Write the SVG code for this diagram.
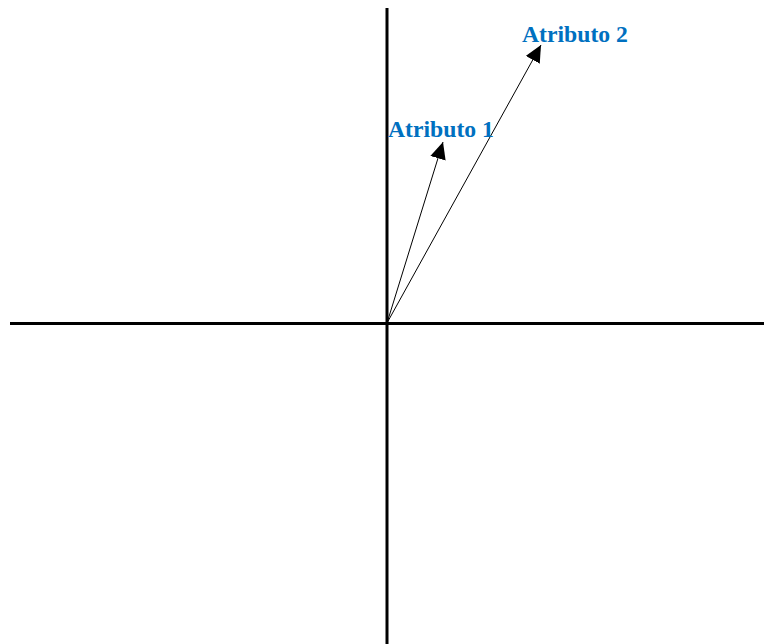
<svg xmlns="http://www.w3.org/2000/svg" width="764" height="644" viewBox="0 0 764 644">
<style>
.axis{stroke:#000;stroke-width:3;fill:none}
.vec{stroke:#000;stroke-width:1;fill:none}
.lbl{font-family:"Liberation Serif","Times New Roman",serif;font-weight:bold;font-size:23.7px;fill:#0070C0}
</style>
<defs>
<marker id="ah" markerUnits="userSpaceOnUse" markerWidth="19" markerHeight="18" refX="17" refY="8" orient="auto">
<path d="M0,0 L17,8 L0,16 Z" fill="#000"/>
</marker>
</defs>
<g id="axes">
<line class="axis" x1="10" y1="323.5" x2="764" y2="323.5"/>
<line class="axis" x1="387" y1="8" x2="387" y2="644"/>
</g>
<g id="connectors">
<line class="vec" x1="387" y1="323" x2="443" y2="142" marker-end="url(#ah)"/>
<line class="vec" x1="387" y1="323" x2="541" y2="45" marker-end="url(#ah)"/>
</g>
<g id="atributo1"><text class="lbl" x="388" y="137">Atributo 1</text></g>
<g id="atributo2"><text class="lbl" x="522" y="42">Atributo 2</text></g>
</svg>
